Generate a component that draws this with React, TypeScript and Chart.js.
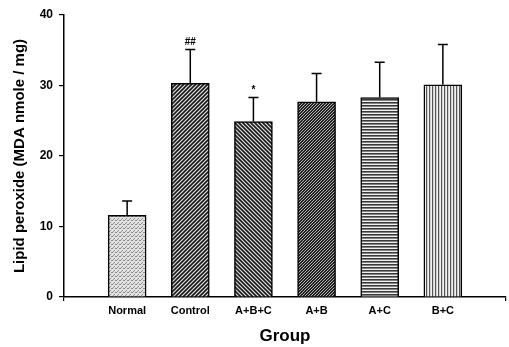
import React, { useEffect, useRef } from "react";
import { Chart, registerables } from "chart.js";

Chart.register(...registerables);

const categories = ["Normal", "Control", "A+B+C", "A+B", "A+C", "B+C"];
const means = [11.6, 30.3, 24.9, 27.7, 28.3, 30.1];
const sds = [2.0, 4.8, 3.4, 4.0, 5.0, 5.7];
const marks = ["", "##", "*", "", "", ""];
const yTicks = [0, 10, 20, 30, 40];

function makePattern(kind: string): CanvasPattern | string {
  const c = document.createElement("canvas");
  const g = c.getContext("2d")!;
  if (kind === "stipple") {
    c.width = 4; c.height = 4;
    g.fillStyle = "#e2e2e2"; g.fillRect(0, 0, 4, 4);
    g.fillStyle = "#8a8a8a";
    g.fillRect(0, 0, 1, 1); g.fillRect(2, 2, 1, 1); g.fillRect(3, 0, 1, 1); g.fillRect(1, 3, 1, 1);
  } else if (kind === "fwd") {
    c.width = 4; c.height = 4;
    g.fillStyle = "#e0e0e0"; g.fillRect(0, 0, 4, 4);
    g.strokeStyle = "#1a1a1a"; g.lineWidth = 1.6;
    g.beginPath();
    g.moveTo(-1, 5); g.lineTo(5, -1);
    g.moveTo(-1, 1); g.lineTo(1, -1);
    g.moveTo(3, 5); g.lineTo(5, 3);
    g.stroke();
  } else if (kind === "back") {
    c.width = 4; c.height = 4;
    g.fillStyle = "#e0e0e0"; g.fillRect(0, 0, 4, 4);
    g.strokeStyle = "#1a1a1a"; g.lineWidth = 1.6;
    g.beginPath();
    g.moveTo(-1, -1); g.lineTo(5, 5);
    g.moveTo(3, -1); g.lineTo(5, 1);
    g.moveTo(-1, 3); g.lineTo(1, 5);
    g.stroke();
  } else if (kind === "dark") {
    c.width = 3; c.height = 3;
    g.fillStyle = "#222222"; g.fillRect(0, 0, 3, 3);
    g.fillStyle = "#b0b0b0";
    g.fillRect(0, 0, 1, 1); g.fillRect(2, 1, 1, 1); g.fillRect(1, 2, 1, 1);
  } else if (kind === "horiz") {
    c.width = 4; c.height = 3;
    g.fillStyle = "#f0f0f0"; g.fillRect(0, 0, 4, 3);
    g.fillStyle = "#3a3a3a"; g.fillRect(0, 0, 4, 1.6);
  } else {
    c.width = 3; c.height = 4;
    g.fillStyle = "#f2f2f2"; g.fillRect(0, 0, 3, 4);
    g.fillStyle = "#555555"; g.fillRect(0, 0, 1.2, 4);
  }
  return g.createPattern(c, "repeat") || "#999";
}

const patternKinds = ["stipple", "fwd", "back", "dark", "horiz", "vert"];
const FONT = "'Liberation Sans', Arial, sans-serif";

export default function App() {
  const ref = useRef<HTMLCanvasElement | null>(null);
  useEffect(() => {
    if (!ref.current) return;
    const fills = patternKinds.map(makePattern);
    const errorPlugin = {
      id: "errbars",
      afterDatasetsDraw(chart: any) {
        const ctx = chart.ctx;
        const xs = chart.scales.x;
        const ys = chart.scales.y;
        ctx.save();
        ctx.strokeStyle = "#000";
        ctx.lineWidth = 1.5;
        ctx.fillStyle = "#000";
        ctx.font = "bold 10px " + FONT;
        ctx.textAlign = "center";
        ctx.textBaseline = "bottom";
        means.forEach((m, i) => {
          const x = xs.getPixelForValue(i);
          const y0 = ys.getPixelForValue(m);
          const y1 = ys.getPixelForValue(m + sds[i]);
          ctx.beginPath();
          ctx.moveTo(x, y0);
          ctx.lineTo(x, y1);
          ctx.moveTo(x - 5, y1);
          ctx.lineTo(x + 5, y1);
          ctx.stroke();
          if (marks[i]) ctx.fillText(marks[i], x, y1 - 2);
        });
        ctx.restore();
      },
    };
    const chart = new Chart(ref.current, {
      type: "bar",
      data: {
        datasets: [
          {
            data: categories.map((c, i) => ({ x: i, y: means[i] })),
            backgroundColor: fills as any,
            borderColor: "#000",
            borderWidth: 1.5,
            barThickness: 38,
          },
        ],
      },
      options: {
        animation: false,
        responsive: false,
        maintainAspectRatio: false,
        layout: { padding: { top: 15, right: 2, left: 0, bottom: 0 } },
        plugins: { legend: { display: false }, tooltip: { enabled: false } },
        scales: {
          x: {
            type: "linear",
            min: -1,
            max: 6,
            offset: false,
            afterBuildTicks: (s: any) => {
              s.ticks = [-1, 0, 1, 2, 3, 4, 5, 6].map((v) => ({ value: v }));
            },
            afterFit: (s: any) => { s.height = 50; },
            ticks: {
              autoSkip: false,
              maxRotation: 0,
              color: "#000",
              padding: 3,
              font: { family: FONT, size: 11, weight: "bold" },
              callback: (v: any) => categories[v] ?? "",
            },
            grid: {
              offset: false,
              drawOnChartArea: false,
              tickLength: 4,
              lineWidth: 1.2,
              color: (c: any) => (c.tick && (c.tick.value === -1 || c.tick.value === 6) ? "#000" : "rgba(0,0,0,0)"),
            },
            border: { display: true, color: "#000", width: 1.5 },
            title: {
              display: true,
              text: "Group",
              color: "#000",
              padding: { top: 8, bottom: 0 },
              font: { family: FONT, size: 17, weight: "bold" },
            },
          },
          y: {
            min: 0,
            max: 40,
            afterBuildTicks: (s: any) => {
              s.ticks = yTicks.map((v) => ({ value: v }));
            },
            afterFit: (s: any) => { s.width = 64; },
            ticks: {
              color: "#000",
              padding: 6,
              font: { family: FONT, size: 12, weight: "bold" },
            },
            grid: { drawOnChartArea: false, tickLength: 5, color: "#000", lineWidth: 1.2 },
            border: { display: true, color: "#000", width: 1.5 },
            title: {
              display: true,
              text: "Lipid peroxide (MDA nmole / mg)",
              color: "#000",
              padding: { top: 11, bottom: 0 },
              font: { family: FONT, size: 15, weight: "bold" },
            },
          },
        },
      },
      plugins: [errorPlugin],
    });
    return () => chart.destroy();
  }, []);
  return (
    <div style={{ position: "absolute", left: 0, top: 0, width: 509, height: 347, background: "#fff" }}>
      <canvas ref={ref} width={509} height={347} style={{ width: 509, height: 347 }} />
    </div>
  );
}
